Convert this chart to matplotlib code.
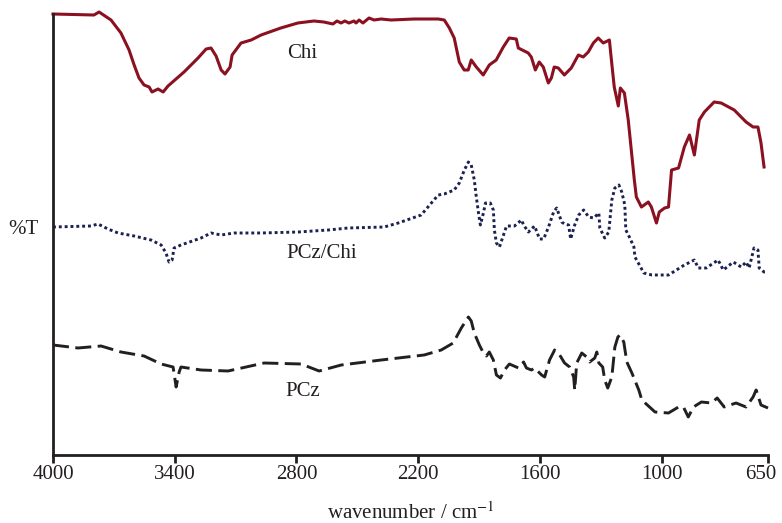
import numpy as np
import matplotlib
matplotlib.use("Agg")
import matplotlib.pyplot as plt
from matplotlib.transforms import ScaledTranslation

plt.rcParams['font.family'] = 'Liberation Serif'
plt.rcParams['mathtext.fontset'] = 'stix'

INK = '#231f20'

# FTIR spectra, stacked with offsets (arbitrary %T units)
chi_wn = [4000, 3798, 3773, 3714, 3665, 3625, 3600, 3576, 3551, 3526, 3512, 3482,
          3457, 3433, 3354, 3285, 3245, 3221, 3196, 3171, 3152, 3127, 3117, 3073,
          3023, 2974, 2877, 2793, 2714, 2665, 2620, 2600, 2580, 2561, 2541, 2516,
          2506, 2491, 2472, 2442, 2417, 2383, 2333, 2219, 2101, 2071, 2046, 2022,
          1997, 1973, 1953, 1938, 1913, 1879, 1849, 1815, 1780, 1751, 1716, 1706,
          1657, 1642, 1622, 1603, 1583, 1558, 1543, 1529, 1509, 1479, 1445, 1410,
          1386, 1361, 1336, 1312, 1287, 1257, 1247, 1233, 1213, 1203, 1183, 1164,
          1149, 1134, 1124, 1099, 1065, 1050, 1025, 1011, 990, 977, 967, 944, 925,
          908, 892, 876, 859, 827, 804, 761, 722, 699, 683, 673, 663]
chi_t = [442, 441, 444, 436, 423, 406, 391, 378, 371, 369, 364, 367,
         364, 370, 384, 398, 407, 408, 400, 386, 382, 389, 401, 413,
         416, 421, 428, 433, 435, 434, 432, 435, 433, 435, 433, 435,
         433, 436, 433, 438, 436, 437, 436, 437, 437, 436, 428, 418,
         394, 386, 386, 396, 389, 381, 391, 396, 409, 418, 417, 408,
         403, 399, 386, 394, 389, 373, 378, 389, 388, 381, 388, 401,
         399, 404, 413, 418, 413, 416, 396, 369, 350, 368, 363, 336,
         306, 276, 259, 249, 254, 249, 233, 244, 248, 249, 286, 288, 309,
         321, 301, 336, 344, 354, 353, 346, 334, 329, 329, 313, 289]

pczchi_wn = [4000, 3813, 3778, 3729, 3679, 3600, 3517, 3467, 3443, 3428, 3413, 3403,
             3369, 3270, 3221, 3171, 3107, 2974, 2791, 2643, 2545, 2367, 2298, 2185,
             2101, 2071, 2022, 1997, 1972, 1952, 1938, 1923, 1913, 1903, 1893, 1878,
             1868, 1844, 1829, 1824, 1814, 1799, 1779, 1764, 1725, 1690, 1680, 1656,
             1626, 1601, 1581, 1557, 1532, 1517, 1492, 1478, 1458, 1448, 1428, 1408,
             1384, 1359, 1334, 1309, 1304, 1280, 1260, 1245, 1230, 1210, 1196, 1181,
             1176, 1156, 1136, 1131, 1087, 1047, 1000, 977, 925, 892, 879, 853, 814,
             797, 764, 738, 722, 712, 696, 683, 679, 663, 653]
pczchi_t = [229, 230, 232, 227, 223, 220, 216, 211, 203, 194, 196, 208,
            211, 218, 223, 221, 223, 223, 224, 226, 228, 229, 233, 241,
            261, 262, 266, 273, 286, 294, 291, 276, 259, 244, 231, 243,
            253, 253, 246, 226, 213, 209, 221, 230, 230, 236, 231, 224,
            230, 217, 217, 229, 244, 248, 234, 232, 231, 217, 231, 241,
            246, 239, 238, 243, 228, 218, 224, 256, 268, 271, 264, 251,
            226, 218, 209, 199, 183, 181, 181, 181, 191, 196, 188, 188, 196,
            186, 194, 189, 194, 188, 208, 206, 188, 184, 184]

pcz_wn = [4000, 3877, 3763, 3665, 3551, 3467, 3408, 3393, 3378, 3369, 3270, 3137,
          2959, 2777, 2688, 2579, 2382, 2170, 2086, 2027, 1987, 1952, 1938, 1923,
          1898, 1878, 1863, 1849, 1829, 1814, 1794, 1774, 1750, 1705, 1680, 1666,
          1641, 1626, 1591, 1576, 1552, 1527, 1502, 1478, 1453, 1433, 1428, 1418,
          1393, 1369, 1354, 1329, 1319, 1309, 1290, 1280, 1265, 1245, 1230, 1215,
          1205, 1186, 1171, 1146, 1112, 1097, 1032, 977, 944, 928, 912, 895, 869,
          836, 817, 794, 755, 722, 699, 689, 673, 650]
pcz_t = [111, 108, 110, 104, 100, 92, 89, 69, 84, 89, 86, 85,
         93, 92, 85, 91, 96, 101, 106, 113, 128, 139, 135, 123,
         111, 103, 100, 104, 96, 81, 78, 86, 92, 88, 94, 88,
         86, 88, 81, 79, 96, 106, 101, 93, 89, 79, 66, 93,
         103, 99, 94, 98, 104, 93, 89, 76, 68, 79, 109, 119,
         121, 114, 94, 83, 66, 56, 44, 43, 49, 49, 39, 49, 54,
         53, 58, 49, 53, 49, 59, 66, 51, 48]

tick_wn = [4000, 3400, 2800, 2200, 1600, 1000, 650]


# below 1000 cm-1 the axis is stretched by 1.5x
def _fwd(w):
    w = np.asarray(w, dtype=float)
    return np.where(w >= 1000, w, 1000 - 1.5 * (1000 - w))


def _inv(u):
    u = np.asarray(u, dtype=float)
    return np.where(u >= 1000, u, 1000 - (1000 - u) / 1.5)


fig = plt.figure(figsize=(7.82, 5.23), dpi=100)
ax = fig.add_axes([53 / 782, 68 / 523, 715 / 782, 441 / 523])
ax.set_xscale('function', functions=(_fwd, _inv))

ax.plot(chi_wn, chi_t, color='#8b1020', lw=2.2, clip_on=False)
ax.plot(pczchi_wn, pczchi_t, color='#1b2150', lw=2.1, linestyle=(0, (1, 1)),
        clip_on=False)
ax.plot(pcz_wn, pcz_t, color=INK, lw=2.1, linestyle=(0, (5.5, 2.2)), clip_on=False)

ax.set_xlim(4000, 650)
ax.set_ylim(1, 442)
ax.set_xticks(tick_wn)
ax.set_xticklabels([str(t) for t in tick_wn])
ax.minorticks_off()
ax.set_yticks([])

for side in ['top', 'right']:
    ax.spines[side].set_visible(False)
for side in ['left', 'bottom']:
    ax.spines[side].set_color(INK)
    ax.spines[side].set_linewidth(2.0)
ax.tick_params(axis='x', direction='out', length=5.5, width=2.0, color=INK,
               labelsize=15, labelcolor=INK, pad=2)

# nudge the last label in so it stays on the canvas
last = ax.get_xticklabels()[-1]
last.set_transform(last.get_transform() + ScaledTranslation(-5 / 72, 0, fig.dpi_scale_trans))

ax.text(2773, 403, 'Chi', fontsize=15, color=INK, ha='center', va='center')
ax.text(2674, 203, 'PCz/Chi', fontsize=15, color=INK, ha='center', va='center')
ax.text(2768, 65, 'PCz', fontsize=15, color=INK, ha='center', va='center')
ax.text(-0.042, 227, '%T', fontsize=15, color=INK, ha='center', va='center',
        transform=ax.get_yaxis_transform())

ax.set_xlabel('wavenumber / cm$^{-1}$', fontsize=15, color=INK, labelpad=13)

plt.savefig('out.png', dpi=100)
